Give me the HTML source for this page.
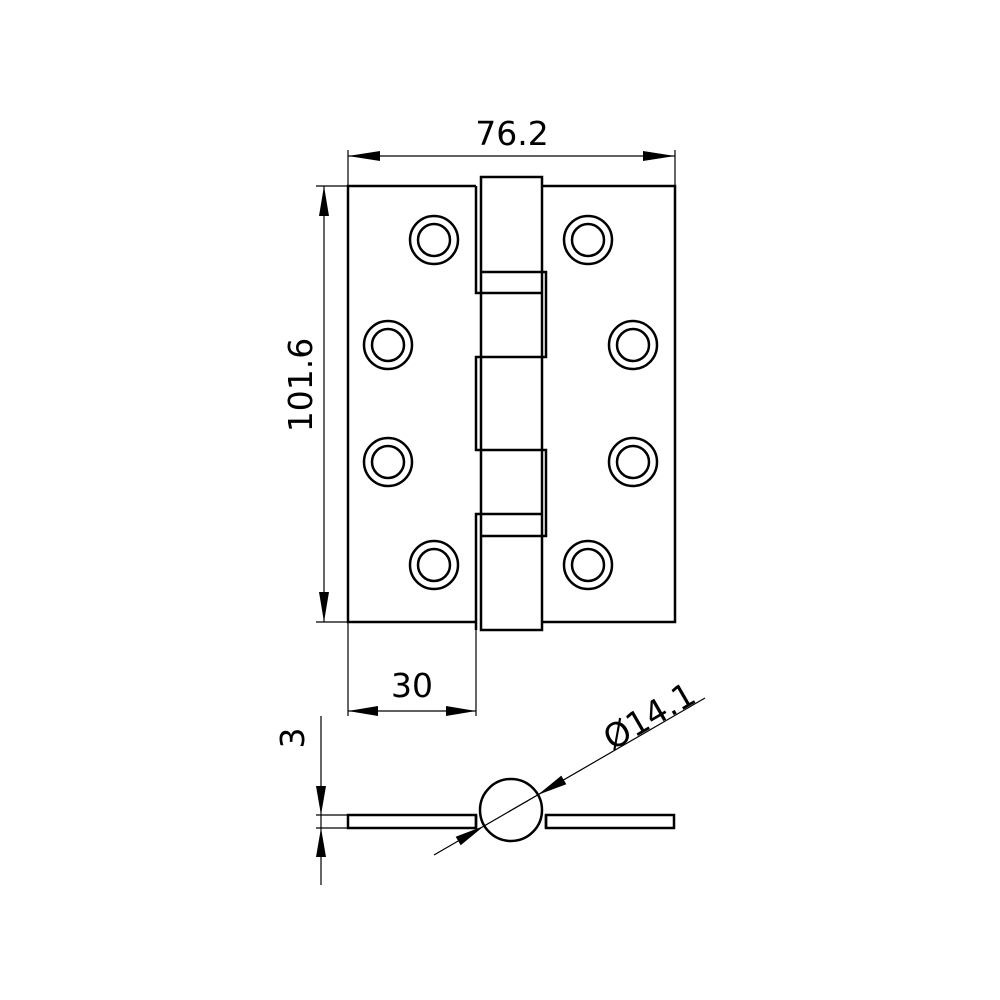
<!DOCTYPE html>
<html><head><style>html,body{margin:0;padding:0;background:#fff;}svg{display:block}</style></head>
<body>
<svg width="1000" height="1000" viewBox="0 0 1000 1000" xmlns="http://www.w3.org/2000/svg">
<g fill="none" stroke="#000" stroke-width="2.5">
<path d="M476,186 H348 V622 H476"/>
<path d="M542,186 H675 V622 H542"/>
<rect x="481" y="177" width="61" height="453"/>
<path d="M476,186 V293 H542"/>
<path d="M481,272 H546 V357 H476 V450 H546 V536 H481"/>
<path d="M542,514 H476 V630"/>
</g>
<g fill="none" stroke="#000" stroke-width="2.5">
<circle cx="434" cy="240" r="24"/><circle cx="434" cy="240" r="16"/>
<circle cx="588" cy="240" r="24"/><circle cx="588" cy="240" r="16"/>
<circle cx="388" cy="345" r="24"/><circle cx="388" cy="345" r="16"/>
<circle cx="633" cy="345" r="24"/><circle cx="633" cy="345" r="16"/>
<circle cx="388" cy="462" r="24"/><circle cx="388" cy="462" r="16"/>
<circle cx="633" cy="462" r="24"/><circle cx="633" cy="462" r="16"/>
<circle cx="434" cy="565" r="24"/><circle cx="434" cy="565" r="16"/>
<circle cx="588" cy="565" r="24"/><circle cx="588" cy="565" r="16"/>
</g>
<g stroke="#000" stroke-width="1.2" fill="none">
<path d="M348,150 V186 M675,150 V186 M348,156 H675"/>
<path d="M316,186 H348 M316,622 H348 M324,186 V622"/>
<path d="M348,622 V716 M476,630 V716 M348,711 H476"/>
<path d="M321,716 V885 M316,815 H347 M316,828 H347"/>
</g>
<g fill="#000">
<polygon points="348,156 380,151 380,161"/>
<polygon points="675,156 643,151 643,161"/>
<polygon points="324,186 319,216 329,216"/>
<polygon points="324,622 319,592 329,592"/>
<polygon points="348,711 378,706 378,716"/>
<polygon points="476,711 446,706 446,716"/>
<polygon points="321,815 316,786 326,786"/>
<polygon points="321,828 316,857 326,857"/>
</g>
<g fill="none" stroke="#000" stroke-width="2.5">
<rect x="348" y="815" width="128" height="13"/>
<rect x="546" y="815" width="128" height="13"/>
<path d="M476,815 V828 M546,815 V828"/>
<circle cx="511" cy="810" r="31" fill="#fff"/>
</g>
<path d="M434,855 L705,698" stroke="#000" stroke-width="1.2"/>
<g fill="#000">
<polygon points="537.8,794.9 566.3,784.2 561.3,775.6"/>
<polygon points="484.2,825.9 460.7,845.3 455.7,836.7"/>
</g>
<g font-family="'DejaVu Sans', 'Liberation Sans', sans-serif" font-size="33" fill="#000" text-anchor="middle">
<text x="512" y="145">76.2</text>
<text x="412" y="697">30</text>
<text transform="translate(312,385) rotate(-90)">101.6</text>
<text transform="translate(304,738) rotate(-90)">3</text>
<text transform="translate(655,726) rotate(-30)">Ø14.1</text>
</g>
</svg>
</body></html>
